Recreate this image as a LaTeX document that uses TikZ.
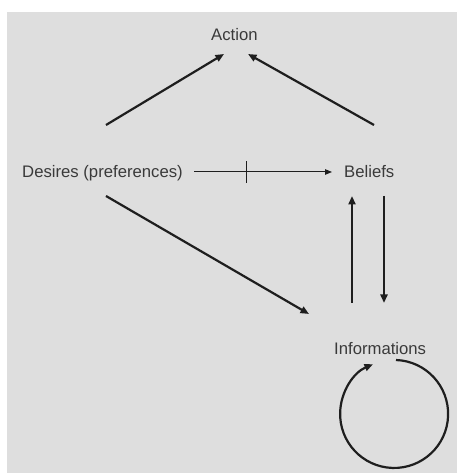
\documentclass[tikz,border=0pt]{standalone}
\usepackage{fontspec}
\setmainfont{Liberation Sans}
\usetikzlibrary{arrows.meta,calc}
\definecolor{bg}{HTML}{DEDEDE}
\definecolor{ink}{HTML}{1E1E1E}
\definecolor{txt}{HTML}{3A3A3A}
\begin{document}
\begin{tikzpicture}[x=1pt,y=1pt,
  lbl/.style={inner sep=0pt,text=txt,font=\fontsize{16.7}{19}\selectfont},
  thk/.style={draw=ink,line width=2.2pt,-{Triangle[length=8.5pt,width=7pt]}},
  thn/.style={draw=ink,line width=1pt,-{Triangle[length=7pt,width=5.5pt]}}]
\useasboundingbox (0,0) rectangle (457,473);
\fill[white] (0,0) rectangle (457,473);
\fill[bg] (7,0) rectangle (457,461);
\node[lbl,anchor=base west] (act) at (211,432) {Action};
\node[lbl,anchor=base west] (des) at (22,295) {Desires (preferences)};
\node[lbl,anchor=base west] (bel) at (344,295) {Beliefs};
\node[lbl,anchor=base west] (inf) at (334,118) {Informations};
\draw[thk] ([shift={(84,53)}]des.base west) -- ([shift={(13,-13)}]act.base west);
\draw[thk] ([shift={(30,53)}]bel.base west) -- ([shift={(37,-13)}]act.base west);
\draw[thn] ([shift={(172,6)}]des.base west) -- coordinate[pos=0.384] (tk) ([shift={(-12,6)}]bel.base west);
\draw[draw=ink,line width=1pt] ([yshift=-11pt]tk) -- ([yshift=11pt]tk);
\draw[thk] ([shift={(84,-18)}]des.base west) -- ([shift={(-25,41)}]inf.base west);
\draw[thk] ([shift={(18,52)}]inf.base west) -- ([shift={(8,-18)}]bel.base west);
\draw[thk] ([shift={(40,-18)}]bel.base west) -- ([shift={(50,52)}]inf.base west);
\draw[thk] ([shift={(62,-5)}]inf.base west) arc[start angle=88,end angle=-247,radius=54pt];
\end{tikzpicture}
\end{document}
